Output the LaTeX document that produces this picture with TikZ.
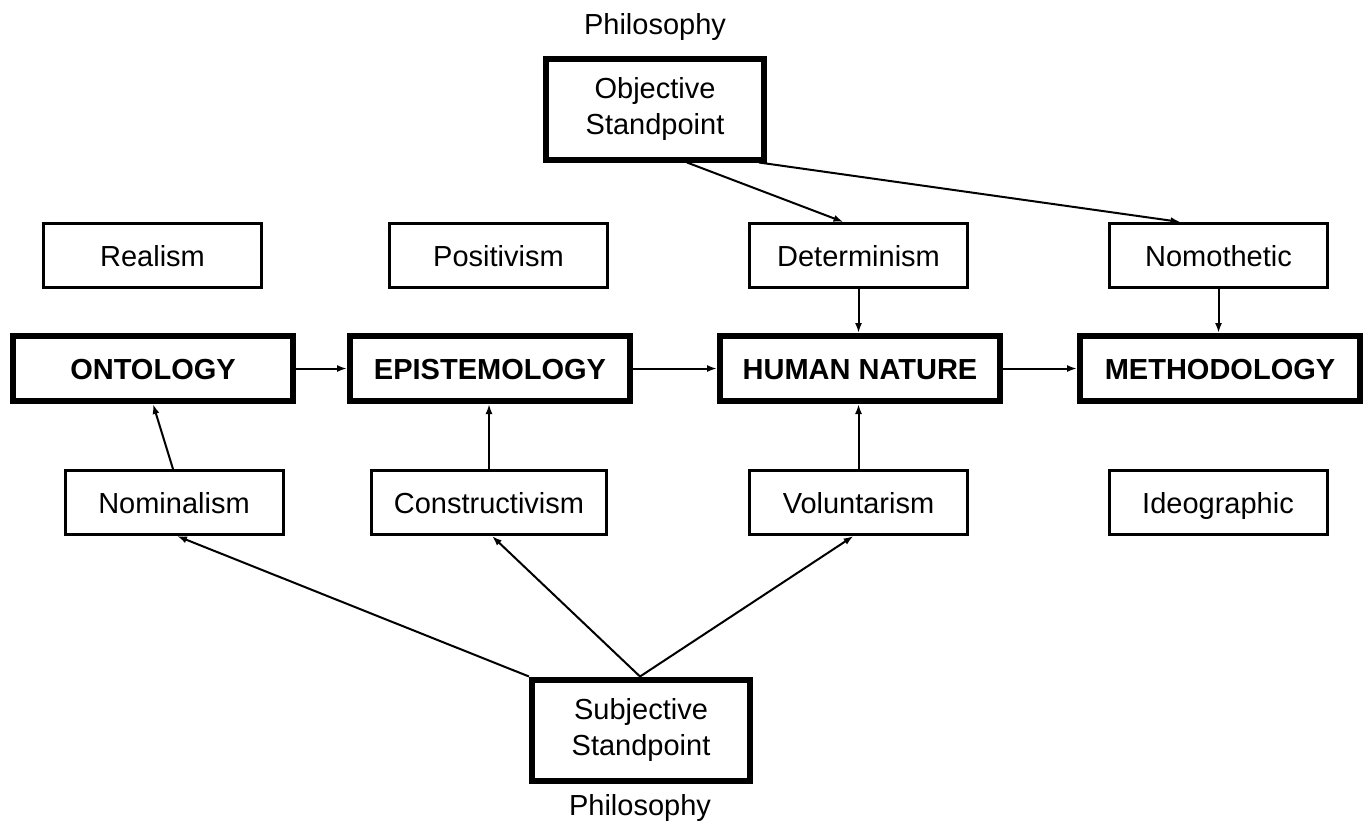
\documentclass[tikz,border=0pt]{standalone}
\usepackage{fontspec}
\setmainfont{Liberation Sans}
\usetikzlibrary{arrows.meta}
\begin{document}
\begin{tikzpicture}[x=1pt,y=-1pt,
  every node/.style={font=\fontsize{29}{36}\selectfont, align=center, inner sep=0pt},
  oneline/.style={text height=24pt, text depth=3pt},
  thinbox/.style={oneline, draw, line width=3pt, minimum width=218pt, minimum height=64pt},
  widebox/.style={thinbox, minimum width=235pt},
  mainbox/.style={oneline, draw, line width=6pt, minimum width=280pt, minimum height=65pt, font=\fontsize{29}{35}\selectfont\bfseries},
  standbox/.style={draw, line width=6pt, minimum width=218pt, minimum height=101pt},
  conn/.style={line width=2pt, -{Latex[length=10pt,width=7pt]}}
]
\useasboundingbox (0,0) rectangle (1367,823);
\fill[white] (0,0) rectangle (1367,823);

\node[oneline] (phtop) at (655,24) {Philosophy};
\node[standbox] (obj) at (655,109) {Objective\\Standpoint};

\node[thinbox] (real) at (152.5,255.5) {Realism};
\node[thinbox] (posi) at (498.5,255.5) {Positivism};
\node[thinbox] (det) at (858.5,255.5) {Determinism};
\node[thinbox] (nom) at (1218.5,255.5) {Nomothetic};

\node[mainbox] (onto) at (153,368.5) {ONTOLOGY};
\node[mainbox] (epi) at (490,368.5) {EPISTEMOLOGY};
\node[mainbox] (hn) at (860,368.5) {HUMAN NATURE};
\node[mainbox] (meth) at (1220,368.5) {METHODOLOGY};

\node[thinbox] (nomi) at (174,502.5) {Nominalism};
\node[widebox] (cons) at (489,502.5) {Constructivism};
\node[thinbox] (vol) at (858.5,502.5) {Voluntarism};
\node[thinbox] (ideo) at (1218,502.5) {Ideographic};

\node[standbox] (subj) at (641,730) {Subjective\\Standpoint};
\node[oneline] (phbot) at (640,805) {Philosophy};

% objective connectors
\draw[conn] ([xshift=32pt]obj.south) -- ([xshift=-15pt]det.north);
\draw[conn] ([xshift=-8pt]obj.south east) -- ([xshift=-38pt]nom.north);
\draw[conn] (det.south) -- (det.south |- hn.north);
\draw[conn] (nom.south) -- (nom.south |- meth.north);

% main chain
\draw[conn] (onto.east) -- (epi.west);
\draw[conn] (epi.east) -- (hn.west);
\draw[conn] (hn.east) -- (meth.west);

% lower to main
\draw[conn] ([xshift=-1pt]nomi.north) -- (onto.south);
\draw[conn] (cons.north) -- (cons.north |- epi.south);
\draw[conn] (vol.north) -- (vol.north |- hn.south);

% subjective connectors
\draw[conn] (subj.north west) -- ([xshift=3pt]nomi.south);
\draw[conn] ([xshift=-1pt]subj.north) -- ([xshift=3pt]cons.south);
\draw[conn] ([xshift=-1pt]subj.north) -- ([xshift=-5pt]vol.south);
\end{tikzpicture}
\end{document}
